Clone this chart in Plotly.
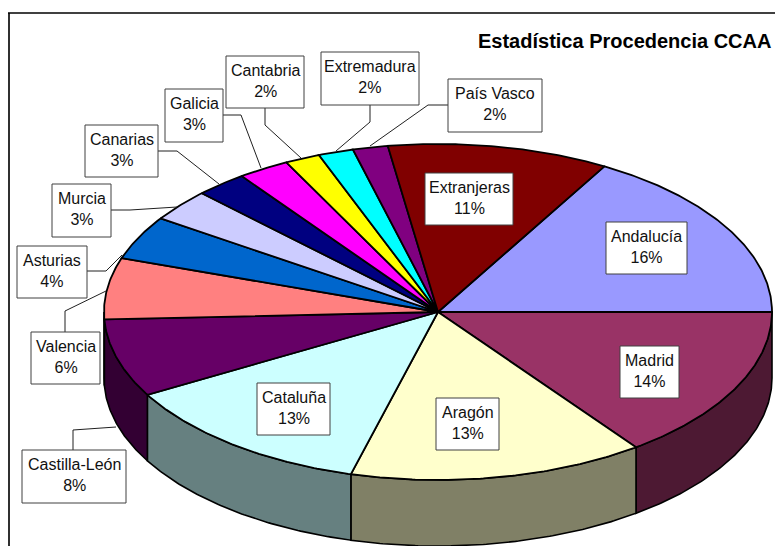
import numpy as np
import plotly.graph_objects as go

# ---- data -------------------------------------------------------------
categories = ["Andalucía", "Madrid", "Aragón", "Cataluña", "Castilla-León", "Valencia",
              "Asturias", "Murcia", "Canarias", "Galicia", "Cantabria", "Extremadura",
              "País Vasco", "Extranjeras"]
# Percentages printed on the labels
label_percent = [16, 14, 13, 13, 8, 6, 4, 3, 3, 3, 2, 2, 2, 11]
# Share of the drawn ellipse each slice occupies
drawn_share = [16.7, 14.9, 14.3, 12.6, 7.5, 5.9, 4.2, 3.1, 2.5, 2.5, 1.7, 1.7, 1.7, 10.7]
title_text = "Estadística Procedencia CCAA"

# ---- style ------------------------------------------------------------
top_colors = ["#9999FF", "#993366", "#FFFFCC", "#CCFFFF", "#660066", "#FF8080", "#0066CC",
              "#CCCCFF", "#000080", "#FF00FF", "#FFFF00", "#00FFFF", "#800080", "#800000"]
side_colors = ["#4D4D80", "#4D1933", "#808066", "#668080", "#330033", "#804040", "#003366",
               "#666680", "#000040", "#800080", "#808000", "#008080", "#400040", "#400000"]

W, H = 775, 546
CX, CY, RX, RY, DEPTH = 438, 312, 334, 168, 66
START_DEG = -60.12  # the first slice begins here, clockwise from east
FONT = "Liberation Sans, Arial, sans-serif"

# box (x0, x1, y0, y1) and leader line in page pixels, per category
boxes = {
    "Andalucía": (606, 687, 222, 274), "Madrid": (620, 679, 346, 398),
    "Aragón": (436, 499, 398, 450), "Cataluña": (257, 330, 383, 435),
    "Castilla-León": (22, 126, 450, 503), "Valencia": (31, 100, 332, 384),
    "Asturias": (17, 87, 246, 298), "Murcia": (52, 111, 184, 237),
    "Canarias": (85, 158, 125, 177), "Galicia": (165, 223, 89, 142),
    "Cantabria": (226, 304, 56, 108), "Extremadura": (321, 419, 52, 105),
    "País Vasco": (448, 542, 79, 132), "Extranjeras": (425, 513, 173, 225),
}
leaders = [
    [(265, 108), (265, 125), (301, 158)],
    [(370, 105), (370, 122), (336, 151)],
    [(448, 105), (428, 105), (370, 146)],
    [(223, 115), (241, 115), (261, 168)],
    [(158, 151), (177, 151), (219, 184)],
    [(111, 210), (130, 210), (177, 207)],
    [(87, 271), (106, 271), (122, 255)],
    [(65, 332), (65, 311), (106, 291)],
    [(73, 450), (73, 430), (116, 427)],
]

# ---- geometry from the data ---------------------------------------------
shares = np.array(drawn_share, dtype=float)
edges = START_DEG + np.concatenate([[0.0], np.cumsum(shares)]) * 360.0 / shares.sum()


def rim(a0, a1, dy=0.0):
    t = np.radians(np.linspace(a0, a1, max(int(abs(a1 - a0) * 2), 2)))
    return CX + RX * np.cos(t), CY + RY * np.sin(t) + dy


fig = go.Figure()

# Side walls: only the front half of the rim (0..180 deg) is visible
for i, name in enumerate(categories):
    a0, a1 = max(edges[i], 0.0), min(edges[i + 1], 180.0)
    if a1 <= a0:
        continue
    xt, yt = rim(a0, a1)
    xb, yb = rim(a1, a0, DEPTH)
    fig.add_trace(go.Scatter(
        x=np.concatenate([xt, xb, xt[:1]]), y=np.concatenate([yt, yb, yt[:1]]),
        mode="lines", fill="toself", fillcolor=side_colors[i],
        line=dict(color="black", width=1.6), hoverinfo="skip", showlegend=False))

# Top face slices
for i, name in enumerate(categories):
    xs, ys = rim(edges[i], edges[i + 1])
    fig.add_trace(go.Scatter(
        x=np.concatenate([[CX], xs, [CX]]), y=np.concatenate([[CY], ys, [CY]]),
        mode="lines", fill="toself", fillcolor=top_colors[i],
        line=dict(color="black", width=1.8), name=name,
        text=f"{name} {label_percent[i]}%", hoverinfo="text", showlegend=False))

# Leader lines
for pts in leaders:
    fig.add_trace(go.Scatter(
        x=[p[0] for p in pts], y=[p[1] for p in pts], mode="lines",
        line=dict(color="#202020", width=1), hoverinfo="skip", showlegend=False))

# Labels: box as a shape, text as an annotation nudged to sit like the original
shapes = [
    dict(type="line", xref="x", yref="y", x0=9, x1=9, y0=13, y1=H,
         line=dict(color="#303030", width=2), layer="below"),
    dict(type="line", xref="x", yref="y", x0=8, x1=W, y0=13, y1=13,
         line=dict(color="black", width=1.5), layer="below"),
]
annotations = []
for name, pct in zip(categories, label_percent):
    x0, x1, y0, y1 = boxes[name]
    shapes.append(dict(type="rect", xref="x", yref="y", x0=x0, x1=x1, y0=y0, y1=y1,
                       fillcolor="white", line=dict(color="#404040", width=1), layer="above"))
    annotations.append(dict(
        x=(x0 + x1) / 2, y=(y0 + y1) / 2, xref="x", yref="y", yshift=1.5,
        text=f"{name}<br>{pct}%", showarrow=False, align="center",
        font=dict(family=FONT, size=16, color="#111111")))
annotations.append(dict(
    x=772, y=41, xref="x", yref="y", xanchor="right", yanchor="middle", xshift=1,
    text=f"<b>{title_text}</b>", showarrow=False,
    font=dict(family=FONT, size=20, color="black")))

fig.update_layout(
    width=W, height=H, margin=dict(l=0, r=0, t=0, b=0),
    paper_bgcolor="white", plot_bgcolor="white", showlegend=False,
    xaxis=dict(range=[0, W], visible=False, fixedrange=True),
    yaxis=dict(range=[H, 0], visible=False, fixedrange=True),
    annotations=annotations,
    shapes=shapes,
)

fig.write_html("out.html", config={"displayModeBar": False},
               post_script="document.body.style.margin='0';document.body.style.overflow='hidden';")
